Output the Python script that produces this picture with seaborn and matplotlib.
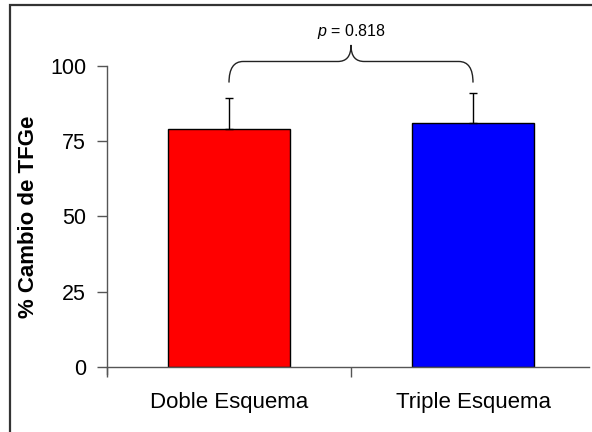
import numpy as np
import pandas as pd
import matplotlib
matplotlib.use("Agg")
import matplotlib.pyplot as plt
import seaborn as sns
from matplotlib.path import Path
from matplotlib.patches import PathPatch, Rectangle
from matplotlib.ticker import FixedLocator

categories = ["Doble Esquema", "Triple Esquema"]
values = [79, 81]
errors = [10.4, 10.0]
y_ticks = [0, 25, 50, 75, 100]
y_label = "% Cambio de TFGe"
p_label = "$p$ = 0.818"
colors = ["#ff0000", "#0000ff"]

sns.set_theme(style="white")
plt.rcParams["font.family"] = ["Liberation Sans", "DejaVu Sans"]
plt.rcParams["mathtext.fontset"] = "custom"
plt.rcParams["mathtext.it"] = "Liberation Sans:italic"
plt.rcParams["mathtext.rm"] = "Liberation Sans"

df = pd.DataFrame({"cat": categories, "val": values})

fig = plt.figure(figsize=(5.92, 4.32), dpi=100)
ax = fig.add_axes([107/592, (432-367)/432, 482/592, (367-66)/432])

sns.barplot(data=df, x="cat", y="val", hue="cat", palette=colors, width=0.5,
            saturation=1, edgecolor="black", linewidth=1, legend=False, ax=ax, errorbar=None)
xs = np.arange(len(categories))
ax.errorbar(xs, values, yerr=[np.zeros(len(values)), errors], fmt="none",
            ecolor="black", elinewidth=1, capsize=3, capthick=1, zorder=3)

ax.set_xlim(-0.5, 1.5 - 6/244)
ax.set_ylim(0, 100)
ax.set_yticks(y_ticks)
ax.set_xticks(xs)
ax.set_xticklabels(categories)
ax.xaxis.set_minor_locator(FixedLocator([-0.5, 0.5, 1.5]))
ax.tick_params(axis="x", which="major", length=0, pad=18, labelsize=16, colors="black")
ax.tick_params(axis="x", which="minor", length=7, width=1, color="#555555", bottom=True)
ax.tick_params(axis="y", length=7, width=1, color="#555555", pad=8, labelsize=15.5,
               left=True, labelcolor="black")
ax.set_xlabel("")
ax.set_ylabel(y_label, fontsize=16, fontweight="bold", labelpad=8, color="black")
for s in ["top", "right"]:
    ax.spines[s].set_visible(False)
for s in ["left", "bottom"]:
    ax.spines[s].set_color("#555555")
    ax.spines[s].set_linewidth(1)
ax.spines["left"].set_bounds(-2.3, 100)

# bracket
top = max(v + e for v, e in zip(values, errors))
y0 = top + 3.5
yh = y0 + 7.0
ypk = yh + 5.5
x0, x1 = xs[0], xs[1]
xm = (x0 + x1) / 2
r = 0.058
verts = [(x0, y0), (x0, yh), (x0 + r, yh),
         (xm - 0.055, yh),
         (xm - 0.02, yh), (xm, yh + 1.5), (xm, ypk),
         (xm, yh + 1.5), (xm + 0.02, yh), (xm + 0.055, yh),
         (x1 - r, yh),
         (x1, yh), (x1, y0)]
codes = [Path.MOVETO, Path.CURVE3, Path.CURVE3,
         Path.LINETO,
         Path.CURVE4, Path.CURVE4, Path.CURVE4,
         Path.CURVE4, Path.CURVE4, Path.CURVE4,
         Path.LINETO,
         Path.CURVE3, Path.CURVE3]
ax.add_patch(PathPatch(Path(verts, codes), fill=False, edgecolor="#222222", lw=1, clip_on=False))
ax.text(xm, ypk + 4.5, p_label, ha="center", va="center", fontsize=11.5, color="black", clip_on=False)

fig.add_artist(Rectangle((10/592, -0.1), 1.2, (432-5)/432 + 0.1, transform=fig.transFigure,
                         fill=False, edgecolor="#333333", lw=1.6))

fig.savefig("out.png", dpi=100)
